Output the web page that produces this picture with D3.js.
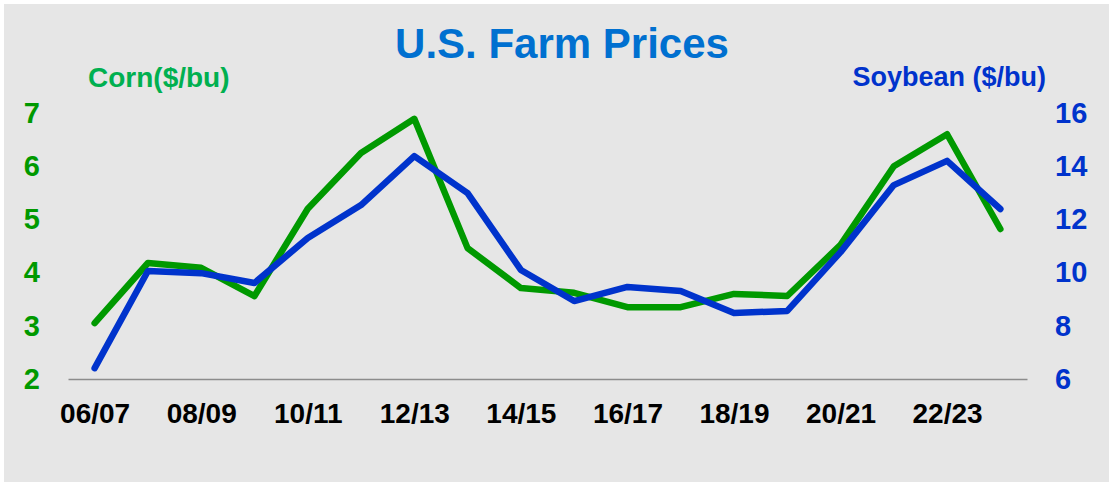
<!DOCTYPE html>
<html>
<head>
<meta charset="utf-8">
<script src="https://cdn.jsdelivr.net/npm/d3@7"></script>
<style>
  body { margin: 0; background: #fff; }
  svg text { font-family: "Liberation Sans", Arial, sans-serif; font-weight: bold; }
</style>
</head>
<body>
<svg id="chart" width="1109" height="482"></svg>
<script>
const seasons = ["06/07", "07/08", "08/09", "09/10", "10/11", "11/12", "12/13", "13/14", "14/15",
  "15/16", "16/17", "17/18", "18/19", "19/20", "20/21", "21/22", "22/23", "23/24"];
const cornPrices = [3.05, 4.18, 4.09, 3.56, 5.20, 6.25, 6.89, 4.46, 3.71, 3.62, 3.35, 3.35, 3.60, 3.56, 4.52, 6.00, 6.60, 4.82];
const soyPrices = [6.41, 10.06, 9.98, 9.61, 11.30, 12.54, 14.38, 12.99, 10.10, 8.93, 9.46, 9.31, 8.48, 8.56, 10.77, 13.29, 14.20, 12.39];
const xTickLabels = ["06/07", "08/09", "10/11", "12/13", "14/15", "16/17", "18/19", "20/21", "22/23"];
const cornTicks = [2, 3, 4, 5, 6, 7];
const soyTicks = [6, 8, 10, 12, 14, 16];

const svg = d3.select("#chart");
const plotLeft = 68, plotRight = 1027, plotTop = 113, plotBottom = 379;

svg.append("rect").attr("x", 4).attr("y", 4).attr("width", 1105).attr("height", 478).attr("fill", "#e6e6e6");

const x = d3.scalePoint().domain(seasons).range([plotLeft, plotRight]).padding(0.5);
const yCorn = d3.scaleLinear().domain([2, 7]).range([plotBottom, plotTop]);
const ySoy = d3.scaleLinear().domain([6, 16]).range([plotBottom, plotTop]);

// x axis
const xAxis = svg.append("g").attr("transform", `translate(0,${plotBottom})`)
  .call(d3.axisBottom(x).tickValues(xTickLabels).tickSize(0).tickSizeOuter(0).tickPadding(24));
xAxis.select(".domain").attr("stroke", "#8c8c8c").attr("stroke-width", 1.5);
xAxis.selectAll("text").attr("font-size", 28).attr("fill", "#000")
  .style("font-family", "'Liberation Sans', Arial, sans-serif");

// left axis (corn)
const yl = svg.append("g").attr("transform", "translate(40,0)")
  .call(d3.axisLeft(yCorn).tickValues(cornTicks).tickFormat(d3.format("d")).tickSize(0).tickPadding(0));
yl.select(".domain").remove();
yl.selectAll("text").attr("font-size", 29).attr("fill", "#009900")
  .style("font-family", "'Liberation Sans', Arial, sans-serif");

// right axis (soybean)
const yr = svg.append("g").attr("transform", "translate(1055,0)")
  .call(d3.axisRight(ySoy).tickValues(soyTicks).tickFormat(d3.format("d")).tickSize(0).tickPadding(0));
yr.select(".domain").remove();
yr.selectAll("text").attr("font-size", 29).attr("fill", "#0033cc")
  .style("font-family", "'Liberation Sans', Arial, sans-serif");

// lines
const cornLine = d3.line().x((d, i) => x(seasons[i])).y(d => yCorn(d));
const soyLine = d3.line().x((d, i) => x(seasons[i])).y(d => ySoy(d));

svg.append("path").datum(cornPrices).attr("d", cornLine)
  .attr("fill", "none").attr("stroke", "#009900").attr("stroke-width", 6.5)
  .attr("stroke-linejoin", "round").attr("stroke-linecap", "round");
svg.append("path").datum(soyPrices).attr("d", soyLine)
  .attr("fill", "none").attr("stroke", "#0033cc").attr("stroke-width", 6.5)
  .attr("stroke-linejoin", "round").attr("stroke-linecap", "round");

// titles
svg.append("text").attr("x", 562).attr("y", 58).attr("text-anchor", "middle")
  .attr("font-size", 42).attr("fill", "#0070d0").text("U.S. Farm Prices");
svg.append("text").attr("x", 88).attr("y", 87)
  .attr("font-size", 28).attr("fill", "#00b050").text("Corn($/bu)");
svg.append("text").attr("x", 1046).attr("y", 86).attr("text-anchor", "end")
  .attr("font-size", 27).attr("fill", "#0033cc").text("Soybean ($/bu)");
</script>
</body>
</html>
